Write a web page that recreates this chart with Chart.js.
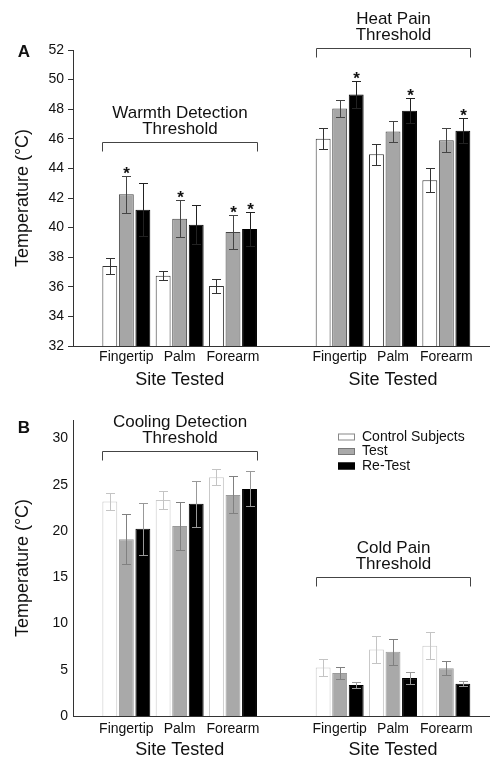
<!DOCTYPE html>
<html>
<head>
<meta charset="utf-8">
<script src="https://cdn.jsdelivr.net/npm/chart.js@4.4.1/dist/chart.umd.min.js"></script>
<style>
  body { margin: 0; background: #fff; }
  #wrap { position: relative; width: 490px; height: 760px; }
  .box { position: absolute; left: 0; width: 490px; }
</style>
</head>
<body>
<div id="wrap">
  <div class="box" style="top:0;height:390px"><canvas id="chartA"></canvas></div>
  <div class="box" style="top:388px;height:372px"><canvas id="chartB"></canvas></div>
</div>
<script>
const FONT = '"Liberation Sans", Arial, sans-serif';

// sites: warmth/cooling group (left), heat/cold pain group (right)
const siteLabels = ['Fingertip', 'Palm', 'Forearm', 'Fingertip', 'Palm', 'Forearm'];
const siteX = [1, 2, 3, 5, 6, 7];
const seriesNames = ['Control Subjects', 'Test', 'Re-Test'];

// Panel A - warmth detection + heat pain threshold (°C)
const controlA    = [37.4, 36.75, 36.05, 46.0, 44.95, 43.2];
const controlAErr = [0.55, 0.3, 0.5, 0.7, 0.7, 0.8];
const testA       = [42.25, 40.6, 39.7, 48.05, 46.5, 45.9];
const testAErr    = [1.25, 1.25, 1.15, 0.6, 0.7, 0.8];
const retestA     = [41.2, 40.2, 39.9, 49.0, 47.9, 46.55];
const retestAErr  = [1.8, 1.3, 1.15, 0.9, 0.85, 0.85];
const testASig    = [true, true, true, false, false, false];
const retestASig  = [false, false, true, true, true, true];

// Panel B - cooling detection + cold pain threshold (°C)
const controlB    = [23.2, 23.35, 25.8, 5.25, 7.2, 7.6];
const controlBErr = [0.9, 0.95, 0.85, 0.9, 1.5, 1.45];
const testB       = [19.1, 20.55, 23.9, 4.65, 6.95, 5.15];
const testBErr    = [2.7, 2.6, 2.0, 0.7, 1.4, 0.75];
const retestB     = [20.25, 22.95, 24.55, 3.35, 4.1, 3.5];
const retestBErr  = [2.8, 2.5, 1.9, 0.35, 0.65, 0.25];

const ticksA = [32, 34, 36, 38, 40, 42, 44, 46, 48, 50, 52];
const ticksB = [0, 5, 10, 15, 20, 25, 30];

const pts = vals => vals.map((v, i) => ({ x: siteX[i], y: v }));

// draws error bars, asterisks, brackets, titles, legend
function decor(cfg) {
  return {
    id: 'decor' + cfg.letter,
    afterDatasetsDraw(chart) {
      const ctx = chart.ctx;
      const xs = chart.scales.x, ys = chart.scales.y;
      ctx.save();

      cfg.errors.forEach((errs, di) => {
        const meta = chart.getDatasetMeta(di);
        meta.data.forEach((bar, j) => {
          const v = chart.data.datasets[di].data[j].y;
          const top = Math.round(ys.getPixelForValue(v + errs[j])) + 0.5;
          const bot = Math.round(ys.getPixelForValue(v - errs[j])) + 0.5;
          const cx = Math.round(bar.x) + 0.5;
          ctx.strokeStyle = cfg.errColors[di];
          ctx.lineWidth = 1;
          ctx.beginPath();
          ctx.moveTo(cx, top); ctx.lineTo(cx, bot);
          ctx.moveTo(cx - 4.5, top); ctx.lineTo(cx + 4.5, top);
          ctx.moveTo(cx - 4.5, bot); ctx.lineTo(cx + 4.5, bot);
          ctx.stroke();
          if (cfg.sig && cfg.sig[di] && cfg.sig[di][j]) {
            ctx.fillStyle = '#111';
            ctx.font = 'bold 17px ' + FONT;
            ctx.textAlign = 'center';
            ctx.textBaseline = 'alphabetic';
            ctx.fillText('*', cx, top + 2);
          }
        });
      });

      // brackets with titles
      ctx.strokeStyle = '#444';
      ctx.fillStyle = '#111';
      ctx.lineWidth = 1;
      cfg.brackets.forEach(b => {
        const x1 = Math.round(xs.getPixelForValue(b.from - 0.45)) + 0.5;
        const x2 = Math.round(xs.getPixelForValue(b.to + 0.45)) + 0.5;
        const y = Math.round(ys.getPixelForValue(b.at)) + 0.5;
        ctx.beginPath();
        ctx.moveTo(x1, y + 9); ctx.lineTo(x1, y); ctx.lineTo(x2, y); ctx.lineTo(x2, y + 9);
        ctx.stroke();
        const cx = (x1 + x2) / 2;
        ctx.font = '17px ' + FONT;
        ctx.textAlign = 'center';
        ctx.textBaseline = 'middle';
        ctx.fillText(b.lines[0], cx, y - 29);
        ctx.fillText(b.lines[1], cx, y - 13);
      });

      // "Site Tested" under each group
      ctx.font = '18px ' + FONT;
      ctx.textBaseline = 'middle';
      ctx.textAlign = 'center';
      [2, 6].forEach(v => ctx.fillText('Site Tested', xs.getPixelForValue(v), cfg.siteY));

      // panel letter
      ctx.font = 'bold 17px ' + FONT;
      ctx.fillText(cfg.letter, 24, cfg.letterY);

      if (cfg.legend) {
        ctx.font = '14px ' + FONT;
        ctx.textAlign = 'left';
        chart.data.datasets.forEach((ds, i) => {
          const ly = cfg.legend.y + i * 14.5;
          ctx.fillStyle = ds.backgroundColor;
          ctx.strokeStyle = cfg.legend.borders[i];
          ctx.fillRect(cfg.legend.x, ly - 3.5, 17, 7);
          ctx.strokeRect(cfg.legend.x + 0.5, ly - 3, 16, 6);
          ctx.fillStyle = '#111';
          ctx.fillText(ds.label, cfg.legend.x + 24, ly);
        });
      }
      ctx.restore();
    }
  };
}

function makeChart(id, series, colors, yMin, yMax, yTicks, opts) {
  const datasets = series.map((vals, i) => ({
    label: seriesNames[i],
    data: pts(vals),
    backgroundColor: colors[i].fill,
    borderColor: colors[i].border,
    borderWidth: 1,
    categoryPercentage: 0.93,
    barPercentage: 0.9
  }));
  return new Chart(document.getElementById(id), {
    type: 'bar',
    data: { datasets },
    options: {
      responsive: true,
      maintainAspectRatio: false,
      animation: false,
      events: [],
      layout: { padding: { top: opts.top, right: 1, left: 0, bottom: 0 } },
      plugins: { legend: { display: false }, tooltip: { enabled: false } },
      scales: {
        x: {
          type: 'linear',
          offset: false,
          min: 0,
          max: 7.8,
          afterBuildTicks: s => { s.ticks = siteX.map(v => ({ value: v })); },
          afterFit: s => { s.height = opts.xHeight; },
          ticks: {
            autoSkip: false,
            maxRotation: 0,
            padding: opts.xPad,
            color: '#111',
            font: { family: FONT, size: 14 },
            callback: v => siteLabels[siteX.indexOf(v)] || ''
          },
          grid: { display: false, drawTicks: false },
          border: { display: true, color: '#333', width: 1 }
        },
        y: {
          min: yMin,
          max: yMax,
          afterBuildTicks: s => { s.ticks = yTicks.map(v => ({ value: v })); },
          afterFit: s => { s.width = 73; },
          ticks: {
            padding: opts.yPad,
            color: '#111',
            font: { family: FONT, size: 14 }
          },
          grid: {
            display: opts.yTickMarks,
            drawOnChartArea: false,
            drawTicks: opts.yTickMarks,
            tickLength: 5,
            color: '#333'
          },
          border: { display: true, color: '#333', width: 1 },
          title: {
            display: true,
            text: 'Temperature (°C)',
            color: '#111',
            font: { family: FONT, size: 18 },
            padding: { top: 12, bottom: 0 }
          }
        }
      }
    },
    plugins: [decor(opts.decor)]
  });
}

makeChart('chartA', [controlA, testA, retestA], [
  { fill: '#ffffff', border: '#333' },
  { fill: '#a6a6a6', border: '#444' },
  { fill: '#000000', border: '#000' }
], 32, 52, ticksA, {
  top: 50, xHeight: 44, xPad: 3, yPad: 4, yTickMarks: true,
  decor: {
    letter: 'A', letterY: 52, siteY: 380,
    errors: [controlAErr, testAErr, retestAErr],
    errColors: ['#333', '#444', '#222'],
    sig: [null, testASig, retestASig],
    brackets: [
      { lines: ['Warmth Detection', 'Threshold'], from: 1, to: 3, at: 45.8 },
      { lines: ['Heat Pain', 'Threshold'], from: 5, to: 7, at: 52.15 }
    ]
  }
});

makeChart('chartB', [controlB, testB, retestB], [
  { fill: '#ffffff', border: '#c8c8c8' },
  { fill: '#a9a9a9', border: '#9a9a9a' },
  { fill: '#000000', border: '#000' }
], 0, 32, ticksB, {
  top: 32, xHeight: 44, xPad: 5, yPad: 5, yTickMarks: false,
  decor: {
    letter: 'B', letterY: 40, siteY: 362,
    errors: [controlBErr, testBErr, retestBErr],
    errColors: ['#c4c4c4', '#808080', '#999'],
    sig: null,
    brackets: [
      { lines: ['Cooling Detection', 'Threshold'], from: 1, to: 3, at: 28.6 },
      { lines: ['Cold Pain', 'Threshold'], from: 5, to: 7, at: 15.0 }
    ],
    legend: { x: 338, y: 49, borders: ['#888', '#777', '#000'] }
  }
});
</script>
</body>
</html>
